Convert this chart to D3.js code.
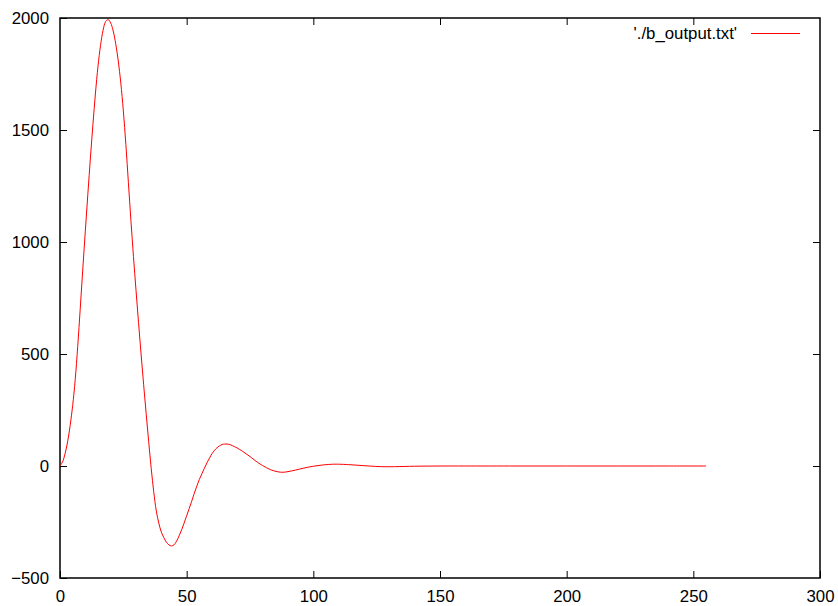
<!DOCTYPE html>
<html>
<head>
<meta charset="utf-8">
<script src="https://cdn.jsdelivr.net/npm/d3@7"></script>
<style>
  html, body { margin: 0; padding: 0; background: #fff; }
  svg { display: block; }
  text { font-family: "Liberation Sans", Arial, Helvetica, sans-serif; }
</style>
</head>
<body>
<svg id="chart" width="838" height="606"></svg>
<script>
// ---- data ----
const xs = [0, 1, 2, 3, 4, 5, 6, 7, 8, 9, 10, 11, 12, 13, 14, 15, 16, 17, 18, 19, 20,
  21, 22, 23, 24, 25, 26, 27, 28, 29, 30, 31, 32, 33, 34, 35, 36, 37, 38, 39, 40,
  41, 42, 43, 44, 45, 46, 47, 48, 49, 50, 51, 52, 53, 54, 55, 56, 57, 58, 59, 60,
  61, 62, 63, 64, 65, 66, 67, 68, 70, 72, 75, 78, 80, 83, 86, 88, 90, 93, 96, 100,
  104, 108, 110, 114, 118, 122, 127, 132, 140, 150, 160, 180, 200, 220, 240, 255];
const ys = [0, 18, 55, 108, 180, 270, 385, 535, 705, 880, 1050, 1215, 1375, 1525, 1665, 1785, 1878, 1945, 1984, 1993, 1978,
  1942, 1885, 1808, 1710, 1585, 1435, 1265, 1095, 935, 785, 640, 500, 365, 235, 110, -10, -115, -200, -255, -295,
  -320, -340, -352, -357, -352, -336, -312, -285, -255, -222, -190, -157, -122, -90, -60, -35, -10, 14, 35, 55,
  70, 82, 90, 96, 98, 98, 96, 91, 80, 66, 42, 16, 2, -16, -26, -28, -25, -18, -10, -1,
  5, 8, 8, 6, 3, 0, -3, -3, -1, 0, 0, 0, 0, 0, 0, 0];
const xTicks = [0, 50, 100, 150, 200, 250, 300];
const yTicks = [-500, 0, 500, 1000, 1500, 2000];
const seriesLabel = "'./b_output.txt'";

// ---- layout ----
const svg = d3.select("#chart");
const mLeft = 60, mRight = 820, mTop = 18, mBottom = 578;
const fontSize = "16.8px";

const x = d3.scaleLinear().domain([0, 300]).range([mLeft, mRight]);
const y = d3.scaleLinear().domain([-500, 2000]).range([mBottom, mTop]);

function styleAxis(g, showText) {
  g.select(".domain").remove();
  g.selectAll(".tick line").attr("stroke", "#000").attr("stroke-width", 1);
  g.selectAll(".tick text")
    .attr("fill", "#000")
    .style("font-size", fontSize)
    .style("font-family", "'Liberation Sans', Arial, Helvetica, sans-serif");
  if (!showText) g.selectAll(".tick text").remove();
}

// bottom axis
svg.append("g")
  .attr("transform", `translate(0,${mBottom})`)
  .call(d3.axisBottom(x).tickValues(xTicks).tickSize(-7).tickPadding(12).tickFormat(d3.format("d")))
  .call(g => styleAxis(g, true));
// top axis (mirror)
svg.append("g")
  .attr("transform", `translate(0,${mTop})`)
  .call(d3.axisTop(x).tickValues(xTicks.filter(d => d > 0 && d < 300)).tickSize(-7))
  .call(g => styleAxis(g, false));
// left axis
svg.append("g")
  .attr("transform", `translate(${mLeft},0)`)
  .call(d3.axisLeft(y).tickValues(yTicks).tickSize(-7).tickPadding(11).tickFormat(d3.format("d")))
  .call(g => styleAxis(g, true));
// right axis (mirror)
svg.append("g")
  .attr("transform", `translate(${mRight},0)`)
  .call(d3.axisRight(y).tickValues(yTicks.filter(d => d > -500 && d < 2000)).tickSize(-7))
  .call(g => styleAxis(g, false));

// frame
svg.append("rect")
  .attr("x", mLeft).attr("y", mTop)
  .attr("width", mRight - mLeft).attr("height", mBottom - mTop)
  .attr("fill", "none").attr("stroke", "#000").attr("stroke-width", 1.5);

// series
const data = xs.map((d, i) => [d, ys[i]]);
const line = d3.line()
  .x(d => x(d[0]))
  .y(d => y(d[1]))
  .curve(d3.curveCatmullRom.alpha(0.5));

svg.append("path")
  .datum(data)
  .attr("d", line)
  .attr("fill", "none")
  .attr("stroke", "#ff0000")
  .attr("stroke-width", 1);

// legend
const legendY = 33.5;
svg.append("text")
  .attr("x", 737).attr("y", legendY)
  .attr("dy", "0.35em")
  .attr("text-anchor", "end")
  .style("font-size", fontSize)
  .attr("fill", "#000")
  .text(seriesLabel);
svg.append("line")
  .attr("x1", 751).attr("x2", 800)
  .attr("y1", legendY).attr("y2", legendY)
  .attr("stroke", "#ff0000").attr("stroke-width", 1);
</script>
</body>
</html>
